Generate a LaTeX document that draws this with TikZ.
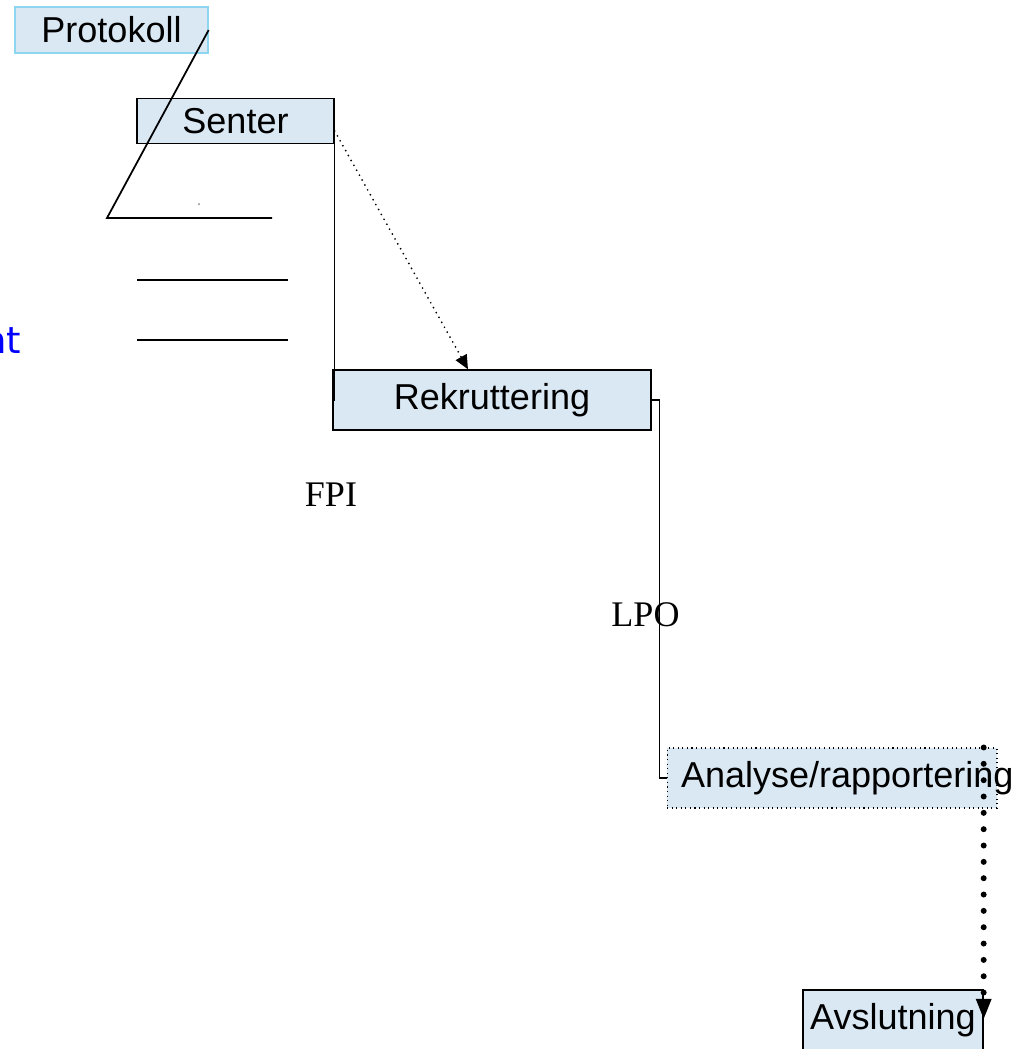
\documentclass[tikz,border=0pt]{standalone}
\usepackage{fontspec}
\setmainfont{Liberation Sans}
\newfontfamily\timesfont{Liberation Serif}
\newfontfamily\notefont{DejaVu Sans}
\usetikzlibrary{arrows.meta}

\definecolor{boxfill}{RGB}{218,232,244}
\definecolor{protoline}{RGB}{142,214,240}
\definecolor{noteblue}{RGB}{0,0,255}

\begin{document}
\begin{tikzpicture}[
    x=0.02cm, y=-0.02cm,
    line width=0.8pt,
    phase/.style={draw, fill=boxfill, inner sep=0pt, font=\fontsize{20.5}{24}\selectfont},
    milestone/.style={font=\timesfont\fontsize{20.5}{24}\selectfont, inner sep=0pt},
    fineDots/.style={line width=1.1pt, dash pattern=on 0pt off 3.2pt, line cap=round},
    bigDots/.style={line width=3.4pt, dash pattern=on 0pt off 9.3pt, line cap=round}
]
    \useasboundingbox (0, 0) rectangle (1035, 1049);
    \clip (0, 0) rectangle (1035, 1049);

    % PHASES
    \node (proto) at (111.5, 30) [phase, draw=protoline, minimum width=3.86cm, minimum height=0.92cm] {Protokoll};
    \node (senter) at (235.5, 121) [phase, minimum width=3.94cm, minimum height=0.9cm] {Senter};
    \node (rekr) at (492, 400) [phase, minimum width=6.36cm, minimum height=1.2cm] {Rekruttering};
    \node (analyse) at (832, 778) [phase, dotted, line width=0.6pt, minimum height=1.2cm, inner xsep=0.28cm] {\makebox[6.04cm][l]{Analyse/rapportering}};
    \node (avsl) at (893, 1020) [phase, minimum width=3.6cm, minimum height=1.2cm] {Avslutning};

    % MILESTONES
    \node (fpi) at (331, 495) [milestone] {FPI};
    \node (lpo) at (645.5, 615) [milestone] {LPO};
    \node (note) at (22, 353) [anchor=base east, inner sep=0pt, text=noteblue, font=\notefont\fontsize{21}{25}\selectfont] {nt};

    % Lines on the left
    \coordinate (bend) at (107, 218);
    \coordinate (line1_end) at (272, 218);
    \coordinate (line2_start) at (137, 280);
    \coordinate (line2_end) at (288, 280);
    \coordinate (line3_start) at (137, 340);
    \coordinate (line3_end) at (288, 340);
    \draw[line width=1pt] (proto.east) -- (bend) -- (line1_end);
    \draw[line width=1.1pt] (line2_start) -- (line2_end);
    \draw[line width=1.1pt] (line3_start) -- (line3_end);
    \fill[gray] (199, 204) circle[radius=1];

    % Connect phases
    \draw (senter.south east) |- (rekr.west);
    \draw[fineDots, -{Triangle[length=8pt, width=7pt]}] ([yshift=-0.2cm]senter.east) -- ([xshift=-0.48cm]rekr.north);
    \draw (rekr.east) -- ++(8, 0) |- (analyse.west);
    \draw[bigDots, -{Triangle[length=12pt, width=8pt]}] (avsl.east |- analyse.north) -- (avsl.east);
\end{tikzpicture}
\end{document}
